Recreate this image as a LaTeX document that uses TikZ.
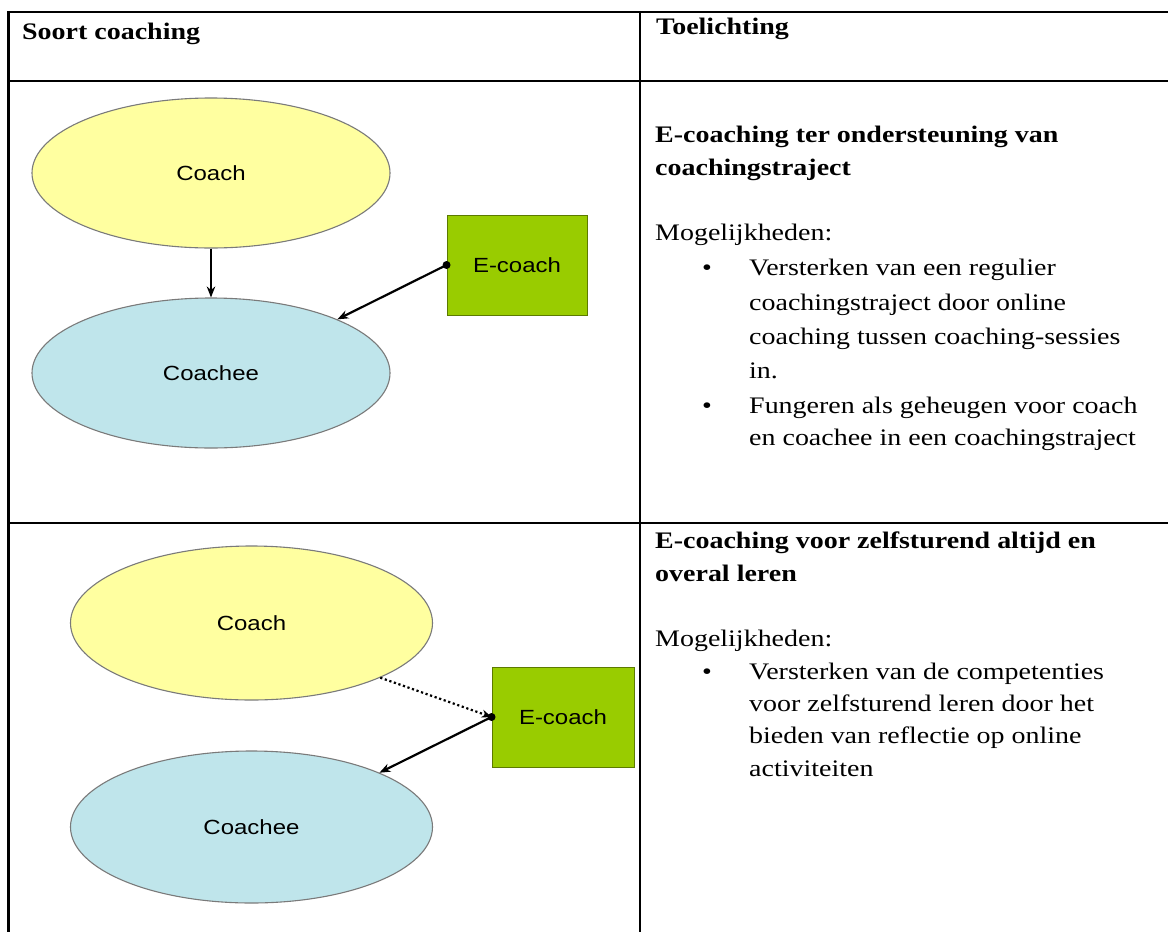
\documentclass[tikz,border=0pt]{standalone}
\usepackage{fontspec}
\setmainfont{Liberation Serif}[FakeStretch=1.18]
\newfontfamily\diagfont{Liberation Sans}[FakeStretch=1.17]
\usetikzlibrary{shapes.geometric,arrows.meta}

\definecolor{coachfill}{HTML}{FFFFA0}
\definecolor{coacheefill}{HTML}{BFE5EB}
\definecolor{ecoachfill}{HTML}{99CC00}
\definecolor{shapeline}{HTML}{7A7A7A}

\tikzset{
  tablerule/.style={line width=2.5pt, black},
  oval/.style={ellipse, draw=shapeline, line width=1.1pt, inner sep=0pt,
    font=\diagfont\fontsize{20.5}{24}\selectfont},
  coachshape/.style={oval, fill=coachfill},
  coacheeshape/.style={oval, fill=coacheefill},
  ecoachbox/.style={rectangle, draw=ecoachfill!60!black, line width=0.9pt,
    fill=ecoachfill, inner sep=0pt, minimum width=140pt, minimum height=100pt,
    font=\diagfont\fontsize{20.5}{24}\selectfont},
  link/.style={line width=2.2pt, -{Stealth[length=11pt,width=8.5pt]}},
  dotlink/.style={line width=2.2pt, dash pattern=on 2.2pt off 2.6pt,
    -{Stealth[length=10pt,width=8pt]}},
  hdr/.style={anchor=base west, inner sep=0pt,
    font=\bfseries\fontsize{23.7}{28}\selectfont},
  body/.style={anchor=base west, inner sep=0pt,
    font=\fontsize{23.7}{28}\selectfont},
  bul/.style={anchor=base, inner sep=0pt,
    font=\fontsize{23.7}{28}\selectfont},
  handle/.style={circle, fill=black, inner sep=0pt, minimum size=8pt},
}

\begin{document}
\begin{tikzpicture}[x=1pt, y=-1pt]
\useasboundingbox (0,0) rectangle (1168,932);
\fill[white] (0,0) rectangle (1168,932);

% table grid
\draw[tablerule] (8.5,12) -- (1168,12);
\draw[tablerule] (8.5,81) -- (1168,81);
\draw[tablerule] (8.5,523) -- (1168,523);
\draw[tablerule] (8.5,10.75) -- (8.5,932);
\draw[tablerule] (640,10.75) -- (640,932);

% column headings
\node[hdr] (hleft) at (22,39) {Soort coaching};
\node[hdr] (hright) at (656,34) {Toelichting};

% first model: e-coach supports the coaching route
\node[coachshape, minimum width=358pt, minimum height=150pt] (coachA) at (211,173) {Coach};
\node[coacheeshape, minimum width=358pt, minimum height=150pt] (coacheeA) at (211,373) {Coachee};
\node[ecoachbox] (ecoachA) at (517,265) {E-coach};
\draw[link] (coachA) -- (coacheeA);
\draw[link] (ecoachA.west) -- (coacheeA.23);
\node[handle] (dotA) at (ecoachA.west) {};

\node[hdr] (tA1) at (655,142) {E-coaching ter ondersteuning van};
\node[hdr] (tA2) at (655,175) {coachingstraject};
\node[body] (tA3) at (655,240) {Mogelijkheden:};
\node[bul] (bA1) at (707,275) {\textbullet};
\node[body] (tA4) at (749,275) {Versterken van een regulier};
\node[body] (tA5) at (749,310) {coachingstraject door online};
\node[body] (tA6) at (749,344) {coaching tussen coaching-sessies};
\node[body] (tA7) at (749,378) {in.};
\node[bul] (bA2) at (707,413) {\textbullet};
\node[body] (tA8) at (749,413) {Fungeren als geheugen voor coach};
\node[body] (tA9) at (749,445) {en coachee in een coachingstraject};

% second model: self-directed learning, anytime and anywhere
\node[coachshape, minimum width=362pt, minimum height=154pt] (coachB) at (251.5,623) {Coach};
\node[coacheeshape, minimum width=362pt, minimum height=152pt] (coacheeB) at (251.5,827) {Coachee};
\node[ecoachbox, minimum width=142pt] (ecoachB) at (563,717) {E-coach};
\draw[dotlink] (coachB.-23) -- (ecoachB.west);
\draw[link] (ecoachB.west) -- (coacheeB.23);
\node[handle] (dotB) at (ecoachB.west) {};

\node[hdr] (tB1) at (655,548) {E-coaching voor zelfsturend altijd en};
\node[hdr] (tB2) at (655,581) {overal leren};
\node[body] (tB3) at (655,646) {Mogelijkheden:};
\node[bul] (bB1) at (707,679) {\textbullet};
\node[body] (tB4) at (749,679) {Versterken van de competenties};
\node[body] (tB5) at (749,711) {voor zelfsturend leren door het};
\node[body] (tB6) at (749,743) {bieden van reflectie op online};
\node[body] (tB7) at (749,776) {activiteiten};
\end{tikzpicture}
\end{document}
